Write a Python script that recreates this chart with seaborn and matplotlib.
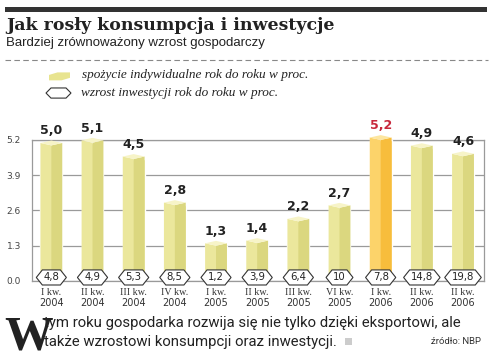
import numpy as np
import pandas as pd
import matplotlib.pyplot as plt
import seaborn as sns
from matplotlib.patches import Polygon, Rectangle
from matplotlib.path import Path
from matplotlib.lines import Line2D

quarters = ['I kw.', 'II kw.', 'III kw.', 'IV kw.', 'I kw.', 'II kw.',
            'III kw.', 'VI kw.', 'I kw.', 'II kw.', 'II kw.']
years = ['2004', '2004', '2004', '2004', '2005', '2005',
         '2005', '2005', '2006', '2006', '2006']
consumption = [5.0, 5.1, 4.5, 2.8, 1.3, 1.4, 2.2, 2.7, 5.2, 4.9, 4.6]
investment = ['4,8', '4,9', '5,3', '8,5', '1,2', '3,9', '6,4', '10', '7,8', '14,8', '19,8']
highlight = 8

df = pd.DataFrame({'pos': [str(i) for i in range(len(consumption))],
                   'value': consumption})

left_col, right_col, top_col = '#ebe79c', '#dbd77f', '#f7f4c8'
hl_left, hl_right, hl_top = '#fcd36a', '#f7bd3c', '#fde6a0'


def hexagon(x0, y0, width, height, mutation_size):
    padx, pady = mutation_size * 0.7, mutation_size * 0.25
    x0, y0 = x0 - padx, y0 - pady
    width, height = width + 2 * padx, height + 2 * pady
    tip = height * 0.4
    verts = [(x0, y0 + height / 2), (x0 + tip, y0 + height),
             (x0 + width - tip, y0 + height), (x0 + width, y0 + height / 2),
             (x0 + width - tip, y0), (x0 + tip, y0), (x0, y0 + height / 2)]
    return Path(verts, closed=True)


sns.set_style('white')
fig = plt.figure(figsize=(5, 3.62), dpi=100)
ax = fig.add_axes([0.064, 0.2238, 0.904, 0.3895])

palette = [hl_left if i == highlight else left_col for i in range(len(consumption))]
sns.barplot(data=df, x='pos', y='value', hue='pos', palette=palette, legend=False,
            width=0.53, saturation=1, ax=ax, zorder=3)

d = 0.09
for i, p in enumerate(ax.patches[:len(consumption)]):
    x, w, h = p.get_x(), p.get_width(), p.get_height()
    p.set_clip_on(False)
    lc = hl_left if i == highlight else left_col
    rc = hl_right if i == highlight else right_col
    tc = hl_top if i == highlight else top_col
    ax.add_patch(Polygon([(x, 0), (x, h + d), (x + w / 2, h), (x + w / 2, 0)],
                         facecolor=lc, edgecolor='none', zorder=3, clip_on=False))
    ax.add_patch(Polygon([(x + w / 2, 0), (x + w / 2, h), (x + w, h + d), (x + w, 0)],
                         facecolor=rc, edgecolor='none', zorder=3, clip_on=False))
    ax.add_patch(Polygon([(x, h + d), (x + w / 2, h), (x + w, h + d), (x + w / 2, h + 2 * d)],
                         facecolor=tc, edgecolor='none', zorder=3, clip_on=False))
    ax.text(x + w / 2, h + 2 * d + 0.12, f'{consumption[i]:.1f}'.replace('.', ','),
            ha='center', va='bottom', fontsize=9, fontweight='bold',
            color='#c8283c' if i == highlight else '#222222', clip_on=False)
    ax.text(x + w / 2, 0.13, investment[i], ha='center', va='center', fontsize=7.3,
            color='#222222', zorder=5,
            bbox=dict(boxstyle=hexagon, facecolor='white', edgecolor='#333333', lw=0.8))
    ax.text(x + w / 2, -0.42, quarters[i], ha='center', va='center', fontsize=7.2,
            family='Liberation Serif', color='#333333')
    ax.text(x + w / 2, -0.82, years[i], ha='center', va='center', fontsize=7,
            color='#333333')

ax.set_ylim(0, 5.2)
ax.set_xlim(-0.47, len(consumption) - 0.49)
ax.set_yticks([0, 1.3, 2.6, 3.9, 5.2])
ax.set_yticklabels(['0.0', '1.3', '2.6', '3.9', '5.2'])
ax.tick_params(axis='y', length=0, labelsize=6.5, labelcolor='#444444', pad=8)
ax.set_xticks([])
ax.set_xlabel('')
ax.set_ylabel('')
ax.yaxis.grid(True, color='#9a9a9a', lw=0.9, zorder=0)
ax.set_axisbelow(True)
for s in ax.spines.values():
    s.set_color('#9a9a9a')
    s.set_linewidth(0.9)

# header
fig.add_artist(Rectangle((0.01, 0.967), 0.964, 0.014, transform=fig.transFigure,
                         facecolor='#333333', edgecolor='none'))
fig.text(0.012, 0.93, 'Jak rosły konsumpcja i inwestycje', fontsize=12.5,
         fontweight='bold', family='DejaVu Serif', color='#222222', va='center')
fig.text(0.012, 0.881, 'Bardziej zrównoważony wzrost gospodarczy', fontsize=9.5,
         family='Liberation Sans', color='#222222', va='center')
fig.add_artist(Line2D([0.01, 0.975], [0.834, 0.834], transform=fig.transFigure,
                      color='#888888', lw=0.8, ls=(0, (5, 3))))

# legend
fig.add_artist(Polygon([(0.098, 0.793), (0.115, 0.80), (0.14, 0.80), (0.14, 0.785),
                        (0.123, 0.778), (0.098, 0.778)], closed=True,
                       transform=fig.transFigure, facecolor='#e8e48f', edgecolor='none'))
fig.add_artist(Polygon([(0.092, 0.743), (0.102, 0.757), (0.132, 0.757), (0.142, 0.743),
                        (0.132, 0.729), (0.102, 0.729)], closed=True,
                       transform=fig.transFigure, facecolor='white', edgecolor='#333333', lw=0.8))
fig.text(0.164, 0.792, 'spożycie indywidualne rok do roku w proc.', fontsize=9.5,
         style='italic', family='Liberation Serif', color='#222222', va='center')
fig.text(0.162, 0.743, 'wzrost inwestycji rok do roku w proc.', fontsize=9.5,
         style='italic', family='Liberation Serif', color='#222222', va='center')

# footer
fig.text(0.008, 0.035, 'W', fontsize=35, fontweight='bold', family='Liberation Serif',
         color='#222222', va='baseline')
fig.text(0.087, 0.108, 'tym roku gospodarka rozwija się nie tylko dzięki eksportowi, ale',
         fontsize=10.7, family='Roboto', color='#222222', va='center')
fig.text(0.087, 0.056, 'także wzrostowi konsumpcji oraz inwestycji.',
         fontsize=10.7, family='Roboto', color='#222222', va='center')
fig.add_artist(Rectangle((0.69, 0.046), 0.014, 0.02, transform=fig.transFigure,
                         facecolor='#cccccc', edgecolor='none'))
fig.text(0.962, 0.058, 'źródło: NBP', fontsize=6.8, family='Roboto', color='#333333',
         ha='right', va='center')

fig.savefig('out.png', dpi=100)
